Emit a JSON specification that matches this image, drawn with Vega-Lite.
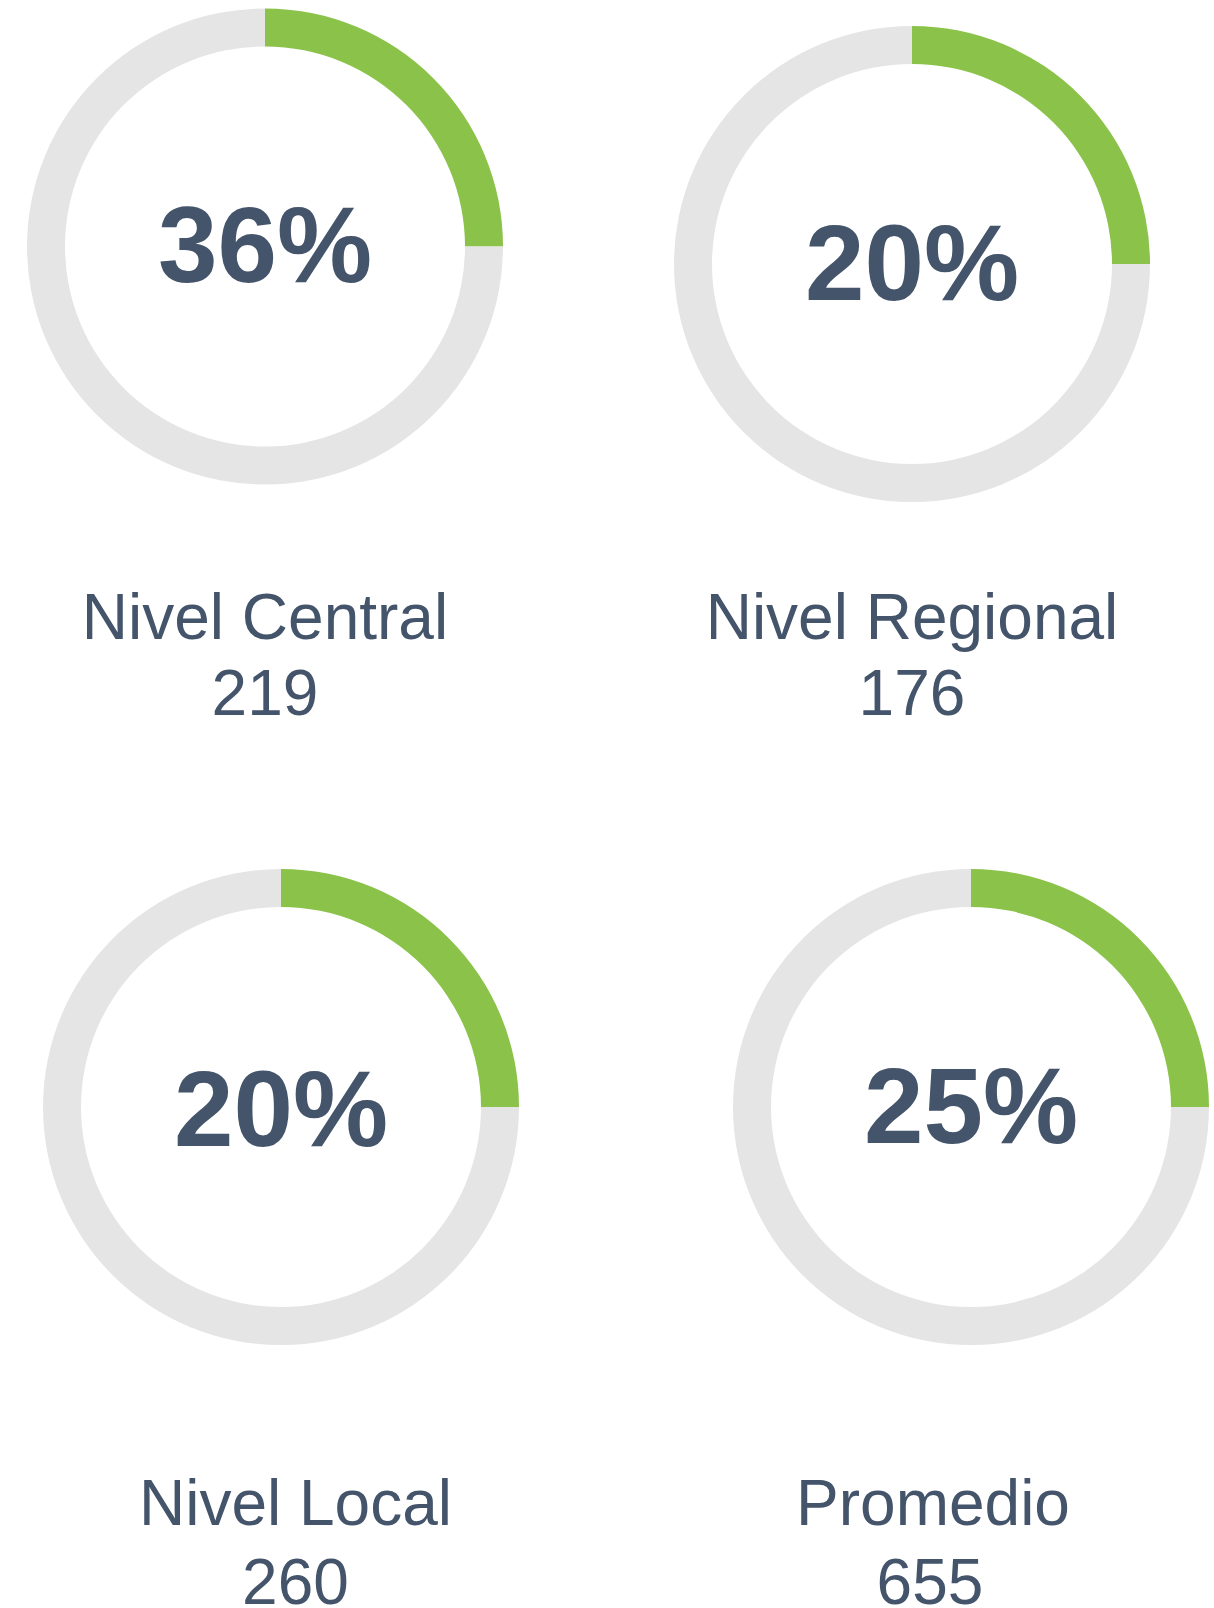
{
  "$schema": "https://vega.github.io/schema/vega-lite/v6.json",
  "padding": 0,
  "background": "white",
  "config": {"view": {"stroke": null}, "font": "Liberation Sans"},
  "datasets": {
    "segmentos": [
      {"nivel": "Nivel Central", "segmento": "avance", "valor": 25, "porcentaje": 0.36, "total": 219},
      {"nivel": "Nivel Central", "segmento": "resto", "valor": 75, "porcentaje": 0.36, "total": 219},
      {"nivel": "Nivel Regional", "segmento": "avance", "valor": 25, "porcentaje": 0.20, "total": 176},
      {"nivel": "Nivel Regional", "segmento": "resto", "valor": 75, "porcentaje": 0.20, "total": 176},
      {"nivel": "Nivel Local", "segmento": "avance", "valor": 25, "porcentaje": 0.20, "total": 260},
      {"nivel": "Nivel Local", "segmento": "resto", "valor": 75, "porcentaje": 0.20, "total": 260},
      {"nivel": "Promedio", "segmento": "avance", "valor": 25, "porcentaje": 0.25, "total": 655},
      {"nivel": "Promedio", "segmento": "resto", "valor": 75, "porcentaje": 0.25, "total": 655}
    ]
  },
  "bounds": "flush",
  "spacing": 606,
  "vconcat": [
    {
      "bounds": "flush",
      "spacing": 82,
      "hconcat": [
        {
          "width": 530, "height": 493,
          "data": {"name": "segmentos"},
          "transform": [{"filter": "datum.nivel === 'Nivel Central'"}],
          "layer": [
            {
              "mark": {"type": "arc", "outerRadius": 238, "innerRadius": 200},
              "encoding": {
                "theta": {"field": "valor", "type": "quantitative", "stack": true},
                "color": {"field": "segmento", "type": "nominal", "scale": {"domain": ["avance", "resto"], "range": ["#8bc34a", "#e5e5e5"]}, "legend": null},
                "order": {"field": "segmento", "sort": "ascending"}
              }
            },
            {
              "transform": [{"filter": "datum.segmento === 'avance'"}],
              "mark": {"type": "text", "fontSize": 107, "fontWeight": "bold", "color": "#44546a", "align": "center", "baseline": "alphabetic", "dy": 35.5},
              "encoding": {"text": {"field": "porcentaje", "type": "quantitative", "format": ".0%"}}
            },
            {
              "transform": [{"filter": "datum.segmento === 'avance'"}],
              "mark": {"type": "text", "fontSize": 64, "color": "#44546a", "align": "center", "baseline": "alphabetic", "dy": 392},
              "encoding": {"text": {"field": "nivel", "type": "nominal"}}
            },
            {
              "transform": [{"filter": "datum.segmento === 'avance'"}],
              "mark": {"type": "text", "fontSize": 64, "color": "#44546a", "align": "center", "baseline": "alphabetic", "dy": 468},
              "encoding": {"text": {"field": "total", "type": "quantitative"}}
            }
          ]
        },
        {
          "width": 600, "height": 528,
          "data": {"name": "segmentos"},
          "transform": [{"filter": "datum.nivel === 'Nivel Regional'"}],
          "layer": [
            {
              "mark": {"type": "arc", "outerRadius": 238, "innerRadius": 200},
              "encoding": {
                "theta": {"field": "valor", "type": "quantitative", "stack": true},
                "color": {"field": "segmento", "type": "nominal", "scale": {"domain": ["avance", "resto"], "range": ["#8bc34a", "#e5e5e5"]}, "legend": null},
                "order": {"field": "segmento", "sort": "ascending"}
              }
            },
            {
              "transform": [{"filter": "datum.segmento === 'avance'"}],
              "mark": {"type": "text", "fontSize": 107, "fontWeight": "bold", "color": "#44546a", "align": "center", "baseline": "alphabetic", "dy": 36.4},
              "encoding": {"text": {"field": "porcentaje", "type": "quantitative", "format": ".0%"}}
            },
            {
              "transform": [{"filter": "datum.segmento === 'avance'"}],
              "mark": {"type": "text", "fontSize": 64, "color": "#44546a", "align": "center", "baseline": "alphabetic", "dy": 374.5},
              "encoding": {"text": {"field": "nivel", "type": "nominal"}}
            },
            {
              "transform": [{"filter": "datum.segmento === 'avance'"}],
              "mark": {"type": "text", "fontSize": 64, "color": "#44546a", "align": "center", "baseline": "alphabetic", "dy": 451},
              "encoding": {"text": {"field": "total", "type": "quantitative"}}
            }
          ]
        }
      ]
    },
    {
      "bounds": "flush",
      "spacing": 166,
      "hconcat": [
        {
          "width": 562, "height": 1002,
          "view": {"clip": true},
          "data": {"name": "segmentos"},
          "transform": [{"filter": "datum.nivel === 'Nivel Local'"}],
          "layer": [
            {
              "mark": {"type": "arc", "outerRadius": 238, "innerRadius": 200},
              "encoding": {
                "theta": {"field": "valor", "type": "quantitative", "stack": true},
                "color": {"field": "segmento", "type": "nominal", "scale": {"domain": ["avance", "resto"], "range": ["#8bc34a", "#e5e5e5"]}, "legend": null},
                "order": {"field": "segmento", "sort": "ascending"}
              }
            },
            {
              "transform": [{"filter": "datum.segmento === 'avance'"}],
              "mark": {"type": "text", "fontSize": 107, "fontWeight": "bold", "color": "#44546a", "align": "center", "baseline": "alphabetic", "dy": 39},
              "encoding": {"text": {"field": "porcentaje", "type": "quantitative", "format": ".0%"}}
            },
            {
              "transform": [{"filter": "datum.segmento === 'avance'"}],
              "mark": {"type": "text", "fontSize": 64, "color": "#44546a", "align": "center", "baseline": "alphabetic", "dy": 418, "dx": 14.5},
              "encoding": {"text": {"field": "nivel", "type": "nominal"}}
            },
            {
              "transform": [{"filter": "datum.segmento === 'avance'"}],
              "mark": {"type": "text", "fontSize": 64, "color": "#44546a", "align": "center", "baseline": "alphabetic", "dy": 497, "dx": 14.5},
              "encoding": {"text": {"field": "total", "type": "quantitative"}}
            }
          ]
        },
        {
          "width": 486, "height": 1002,
          "view": {"clip": true},
          "data": {"name": "segmentos"},
          "transform": [{"filter": "datum.nivel === 'Promedio'"}],
          "layer": [
            {
              "mark": {"type": "arc", "outerRadius": 238, "innerRadius": 200},
              "encoding": {
                "theta": {"field": "valor", "type": "quantitative", "stack": true},
                "color": {"field": "segmento", "type": "nominal", "scale": {"domain": ["avance", "resto"], "range": ["#8bc34a", "#e5e5e5"]}, "legend": null},
                "order": {"field": "segmento", "sort": "ascending"}
              }
            },
            {
              "transform": [{"filter": "datum.segmento === 'avance'"}],
              "mark": {"type": "text", "fontSize": 107, "fontWeight": "bold", "color": "#44546a", "align": "center", "baseline": "alphabetic", "dy": 36},
              "encoding": {"text": {"field": "porcentaje", "type": "quantitative", "format": ".0%"}}
            },
            {
              "transform": [{"filter": "datum.segmento === 'avance'"}],
              "mark": {"type": "text", "fontSize": 64, "color": "#44546a", "align": "center", "baseline": "alphabetic", "dy": 418, "dx": -38},
              "encoding": {"text": {"field": "nivel", "type": "nominal"}}
            },
            {
              "transform": [{"filter": "datum.segmento === 'avance'"}],
              "mark": {"type": "text", "fontSize": 64, "color": "#44546a", "align": "center", "baseline": "alphabetic", "dy": 497, "dx": -41},
              "encoding": {"text": {"field": "total", "type": "quantitative"}}
            }
          ]
        }
      ]
    }
  ]
}
